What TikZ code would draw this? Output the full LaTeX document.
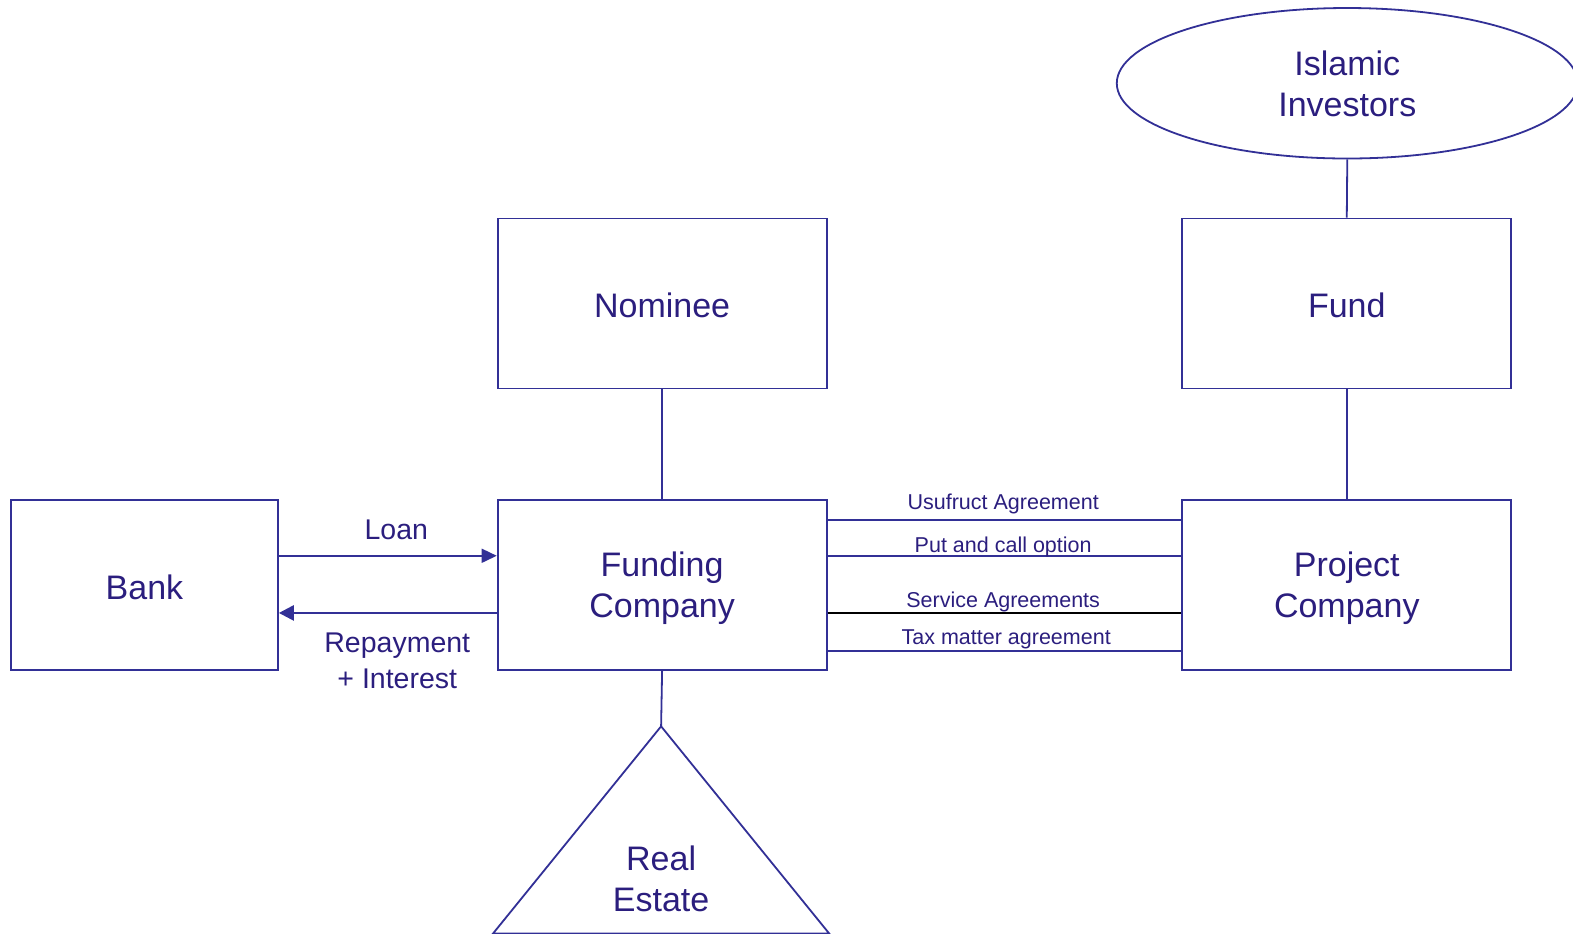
\documentclass[tikz,border=0pt]{standalone}
\usepackage{fontspec}
\setmainfont{Liberation Sans}
\usetikzlibrary{arrows.meta,shapes.geometric}
\definecolor{ink}{RGB}{43,30,126}
\definecolor{edge}{RGB}{50,48,150}
\newcommand{\topstrut}{\rule{0pt}{29pt}}
\begin{document}
\begin{tikzpicture}[x=1.0032pt,y=-1.0032pt,
  every node/.style={text=ink,font=\fontsize{34}{41}\selectfont},
  entity/.style={draw=edge,line width=1.8pt,minimum width=329pt,minimum height=170pt,
    inner sep=0pt,align=center,text depth=0pt,execute at begin node=\topstrut},
  link/.style={draw=edge,line width=1.8pt},
  deal/.style={font=\fontsize{21.5}{25}\selectfont,inner sep=0pt},
  flow/.style={font=\fontsize{28.5}{36}\selectfont,align=center,inner sep=0pt}]
\useasboundingbox (0,0) rectangle (1568,931);

% entities
\node[entity,minimum width=267pt] (bank) at (144,583) {Bank};
\node[entity] (nominee) at (660,302.5) {Nominee};
\node[entity] (funding) at (660,583) {Funding\\Company};
\node[entity] (fund) at (1342.5,302.5) {Fund};
\node[entity] (project) at (1342.5,583) {Project\\Company};
\node[draw=edge,line width=1.8pt,ellipse,minimum width=461pt,minimum height=150.5pt,inner sep=0pt,
  align=center,text depth=0pt,execute at begin node=\topstrut]
  (investors) at (1343,83) {Islamic\\Investors};

% real estate triangle
\coordinate (apex) at (659,724);
\draw[edge,line width=1.8pt] (apex) -- (826.5,930.5) -- (491.5,930.5) -- cycle;
\node[align=center] (estate) at (659,876) {Real\\Estate};

% ownership links
\draw[link] (nominee.south) -- (funding.north);
\draw[link] (funding.south) -- (apex);
\draw[link] (investors.south) -- (fund.north);
\draw[link] (fund.south) -- (project.north);

% loan and repayment
\draw[edge,line width=1.6pt,-{Triangle[length=15pt,width=14pt]}]
  (bank.east |- 0,554) -- (funding.west |- 0,554);
\draw[edge,line width=2.6pt,-{Triangle[length=15pt,width=15pt]}]
  (funding.west |- 0,611) -- (bank.east |- 0,611);
\node[flow] (loan) at (395,528) {Loan};
\node[flow] (repay) at (396,659) {Repayment\\+ Interest};

% agreements between funding and project company
\draw[link] (funding.east |- 0,518) -- (project.west |- 0,518);
\draw[link] (funding.east |- 0,554) -- (project.west |- 0,554);
\draw[line width=1.8pt,black] (funding.east |- 0,611) -- (project.west |- 0,611);
\draw[link] (funding.east |- 0,649) -- (project.west |- 0,649);
\node[deal] (usufruct) at (1000,502) {Usufruct Agreement};
\node[deal] (putcall) at (1000,545.5) {Put and call option};
\node[deal] (service) at (1000,600.5) {Service Agreements};
\node[deal] (tax) at (1003,637.5) {Tax matter agreement};
\end{tikzpicture}
\end{document}
